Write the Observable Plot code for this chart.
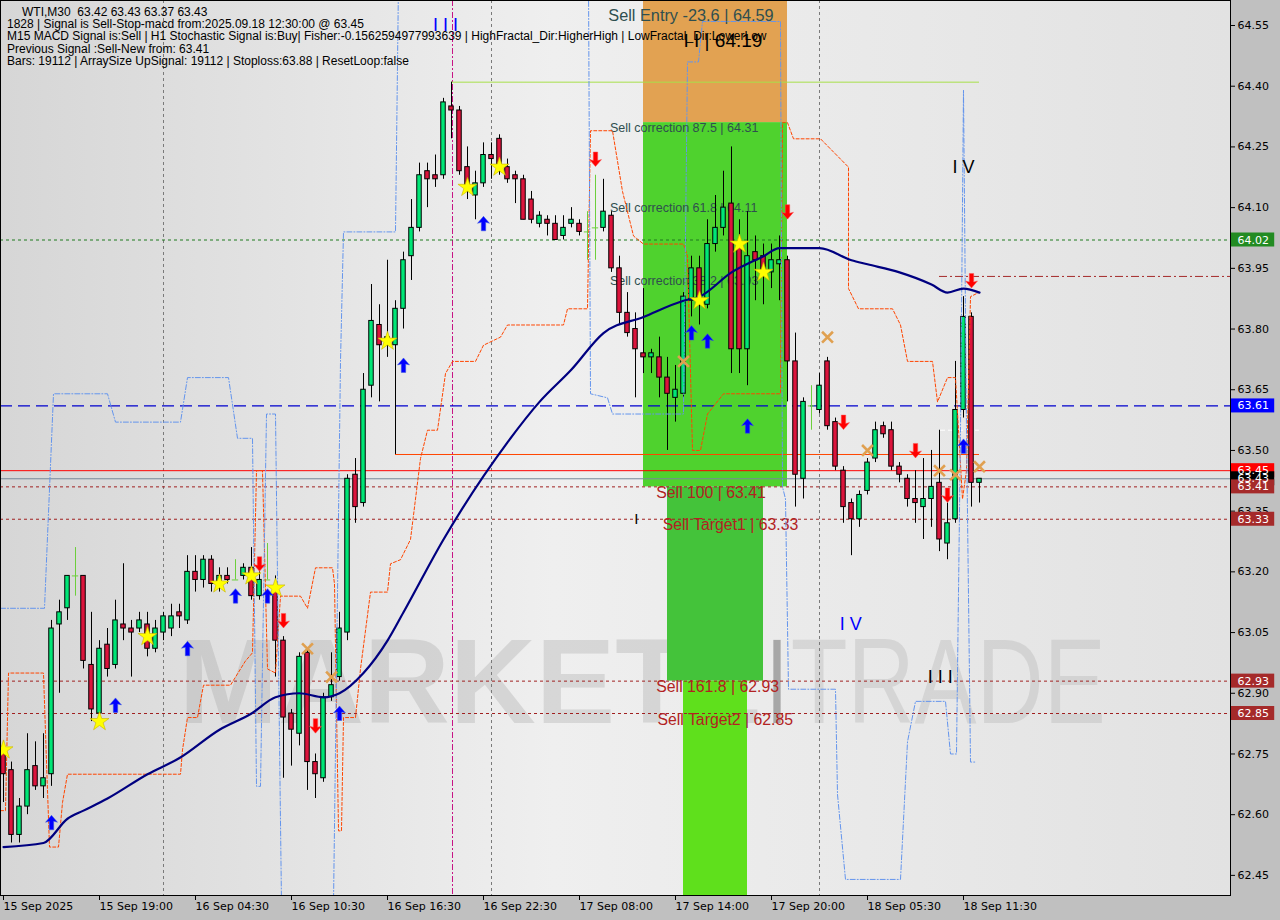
<!DOCTYPE html>
<html><head><meta charset="utf-8">
<script src="https://cdn.jsdelivr.net/npm/d3@7"></script>
<script src="https://cdn.jsdelivr.net/npm/@observablehq/plot@0.6"></script>
<style>
html,body{margin:0;padding:0;background:#c0c0c0;}
#wrap{position:relative;width:1280px;height:920px;overflow:hidden;}
#info{position:absolute;left:7px;top:6px;font:12px "Liberation Sans",Arial,sans-serif;line-height:12.2px;color:#000;white-space:pre;}
</style></head><body>
<div id="wrap"><div id="chart"></div>
<div id="info"><span style="padding-left:15px">WTI,M30  63.42 63.43 63.37 63.43</span>
1828 | Signal is Sell-Stop-macd from:2025.09.18 12:30:00 @ 63.45
M15 MACD Signal is:Sell | H1 Stochastic Signal is:Buy| Fisher:-0.1562594977993639 | HighFractal_Dir:HigherHigh | LowFractal_Dir:LowerLow
Previous Signal :Sell-New from: 63.41
Bars: 19112 | ArraySize UpSignal: 19112 | Stoploss:63.88 | ResetLoop:false</div>
</div>
<script>
// ---------- DATA ----------
const openP = [62.75,62.71,62.55,62.62,62.72,62.67,62.70,63.07,63.11,63.19,
63.19,62.97,62.85,63.02,62.97,63.07,63.06,63.06,63.07,63.01,
63.05,63.06,63.10,63.08,63.20,63.18,63.23,63.17,63.19,63.18,
63.19,63.21,63.14,63.18,63.16,63.03,62.85,62.80,63.00,62.73,
62.69,62.89,62.94,63.05,63.44,63.37,63.66,63.81,63.76,63.76,
63.85,63.98,64.05,64.19,64.18,64.18,64.35,64.34,64.20,64.13,
64.16,64.23,64.27,64.20,64.18,64.17,64.12,64.06,64.07,64.06,
64.03,64.06,64.06,64.04,64.05,64.05,64.08,63.95,63.84,63.80,
63.74,63.73,63.73,63.68,63.63,63.64,63.87,63.95,63.86,64.01,
64.05,64.11,64.00,63.75,63.99,63.98,63.94,63.96,63.97,63.72,
63.43,63.61,63.60,63.72,63.57,63.45,63.37,63.33,63.40,63.48,
63.56,63.55,63.46,63.43,63.38,63.36,63.38,63.42,63.27,63.33,
63.60,63.83,63.42];
const highP = [62.78,62.73,62.64,62.80,62.78,62.80,63.08,63.13,63.19,63.26,
63.19,63.10,63.03,63.06,63.13,63.22,63.08,63.10,63.10,63.08,
63.10,63.12,63.12,63.24,63.24,63.24,63.24,63.21,63.21,63.23,
63.22,63.26,63.20,63.27,63.19,63.04,62.86,63.00,63.01,62.75,
62.90,63.00,63.10,63.44,63.48,63.69,63.91,63.86,63.97,63.87,
63.99,64.12,64.21,64.21,64.23,64.37,64.41,64.35,64.25,64.19,
64.26,64.26,64.28,64.22,64.19,64.18,64.14,64.09,64.08,64.08,
64.08,64.10,64.07,64.09,64.18,64.17,64.09,63.98,63.89,63.84,
63.90,63.75,63.78,63.73,63.71,63.89,63.98,63.98,64.07,64.13,
64.19,64.25,64.07,64.09,64.03,64.01,64.01,64.03,63.98,63.79,
63.63,63.66,63.69,63.73,63.58,63.46,63.38,63.40,63.48,63.57,
63.57,63.57,63.47,63.44,63.45,63.48,63.50,63.55,63.37,63.72,
63.88,63.84,63.43];
const lowP = [62.63,62.53,62.53,62.60,62.66,62.64,62.67,62.90,63.08,63.14,
62.96,62.83,62.83,62.94,62.96,63.03,62.94,63.05,62.99,63.00,
63.03,63.04,63.06,63.07,63.15,63.16,63.15,63.15,63.17,63.18,
63.18,63.13,63.13,63.18,62.94,62.69,62.72,62.77,62.66,62.64,
62.68,62.88,62.93,63.03,63.32,63.36,63.63,63.62,63.73,63.49,
63.80,63.92,64.04,64.10,64.15,64.17,64.27,64.18,64.12,64.07,
64.15,64.17,64.18,64.16,64.11,64.07,64.06,64.05,64.03,64.02,
64.02,64.05,64.03,63.97,63.97,64.04,63.94,63.81,63.78,63.63,
63.69,63.69,63.63,63.50,63.57,63.63,63.83,63.81,63.85,63.99,
64.03,63.69,63.69,63.66,63.87,63.86,63.90,63.87,63.62,63.36,
63.38,63.55,63.59,63.55,63.45,63.32,63.24,63.31,63.39,63.47,
63.53,63.45,63.42,63.36,63.32,63.28,63.31,63.25,63.23,63.32,
63.58,63.36,63.37];
const closeP = [62.70,62.55,62.62,62.71,62.67,62.69,63.06,63.10,63.19,63.19,
62.98,62.86,63.01,62.96,63.08,63.06,63.05,63.08,63.01,63.06,
63.09,63.09,63.09,63.20,63.18,63.23,63.17,63.19,63.18,63.18,
63.21,63.14,63.18,63.18,63.03,62.84,62.81,62.99,62.73,62.70,
62.89,62.92,63.06,63.43,63.36,63.65,63.82,63.76,63.78,63.85,
63.97,64.05,64.18,64.17,64.17,64.36,64.34,64.19,64.15,64.16,
64.23,64.22,64.19,64.17,64.17,64.07,64.07,64.08,64.06,64.02,
64.05,64.07,64.04,64.04,64.05,64.09,63.95,63.84,63.79,63.75,
63.73,63.74,63.68,63.64,63.65,63.88,63.95,63.86,64.01,64.05,
64.10,63.75,63.75,63.98,63.97,63.93,63.97,63.97,63.72,63.44,
63.62,63.61,63.66,63.56,63.46,63.36,63.33,63.39,63.47,63.55,
63.54,63.46,63.44,63.38,63.37,63.38,63.41,63.28,63.32,63.60,
63.83,63.42,63.43];

// moving average (bar index, price)
const maLine = [[0,62.52],[5,62.53],[8,62.59],[10,62.61],[13,62.64],[18,62.70],[22,62.74],[27,62.81],[31,62.85],[34,62.89],[37,62.90],[40,62.89],[42,62.90],[45,62.95],[48,63.03],[50,63.10],[55,63.28],[63,63.52],[67,63.62],[71,63.70],[75,63.79],[80,63.83],[85,63.87],[87,63.88],[91,63.94],[95,63.98],[97,64.00],[99,64.00],[102,64.00],[106,63.97],[108,63.96],[112,63.94],[116,63.91],[118,63.89],[120,63.90],[122,63.89]];
// orange dashed channel (bar index, price)
const orangeBand = [[-0.375,62.61],[0.25,62.61],[0.625,62.95],[5,62.95],[5.375,62.73],[5.75,62.52],[6.875,62.52],[7.375,62.63],[8,62.70],[22.125,62.70],[22.375,62.76],[23,62.84],[24.25,62.84],[25,62.92],[28.375,62.92],[30.25,62.98],[31.125,63.00],[31.625,63.45],[32.375,63.45],[33,62.96],[34,62.95],[34.625,63.14],[37.125,63.14],[38,63.11],[39,63.21],[41.125,63.21],[41.375,63.17],[41.875,62.56],[42.25,62.56],[42.5,62.84],[44,62.84],[44.625,62.96],[45.875,63.15],[48,63.15],[48.375,63.22],[49.625,63.23],[50.875,63.28],[52.125,63.48],[53,63.55],[54.25,63.55],[55.25,63.69],[56.125,63.72],[59,63.72],[60,63.76],[62.125,63.78],[63,63.81],[70,63.81],[70.5,63.85],[73,63.85],[73.375,64.29],[76.125,64.29],[77.375,64.14],[78.75,64.03],[80,64.01],[85,64.01],[85.5,63.98],[86.125,63.50],[87.125,63.50],[88,63.59],[90,63.64],[97.125,63.64],[97.375,64.31],[98,64.31],[98.75,64.27],[102.125,64.27],[105.625,64.20],[105.625,63.90],[106.875,63.85],[111.125,63.85],[112.125,63.81],[113,63.72],[116.125,63.72],[116.75,63.62],[118,63.68],[119,63.68],[119.875,63.38],[120.375,63.45],[120.875,63.88],[121.875,63.89]];
// blue dash-dot channel (bar index, price)
const blueBand = [[-0.375,63.11],[5.125,63.11],[6.25,63.64],[13,63.64],[14,63.57],[22.125,63.57],[23,63.68],[28.125,63.68],[29.25,63.53],[31.125,63.53],[31.625,62.67],[32.125,62.67],[32.875,63.59],[34,63.59],[34.75,62.38],[41.25,62.38],[42.125,63.72],[42.5,64.04],[49,64.04],[49.375,64.66],[73.125,64.66],[73.375,63.64],[75.5,63.63],[76.125,63.59],[85,63.59],[85.5,64.46],[86.875,64.46],[87.375,64.56],[97.125,64.56],[97.375,63.41],[97.75,63.38],[98.125,62.91],[104,62.91],[104.25,62.65],[105.25,62.44],[112.125,62.44],[113,62.78],[114,62.88],[117.75,62.88],[118.375,62.75],[119.125,62.75],[119.625,63.55],[120,64.39],[120.375,63.55],[120.875,62.73],[121.5,62.73]];

// signal markers (bar index, price)
const stars = [[0,62.76],[12,62.83],[18,63.04],[27,63.17],[31,63.19],[34,63.16],[48,63.77],[58,64.15],[62,64.20],[87,63.87],[92,64.01],[95,63.94]];
const upArrows = [[6,62.58],[14,62.87],[23,63.01],[29,63.14],[33,63.14],[42,62.85],[50,63.71],[60,64.06],[86,63.79],[88,63.77],[93,63.56],[120,63.51]];
const downArrows = [[32,63.22],[35,63.08],[39,62.82],[74,64.22],[98,64.09],[105,63.57],[114,63.50],[118,63.39],[121,63.92]];
const crosses = [[38,63.01],[41,62.94],[85,63.72],[103,63.78],[108,63.50],[117,63.45],[119,63.44],[122,63.46]];

// horizontal levels
const levelDotted = [63.41, 63.33, 62.93, 62.85];
const levelGreen = 64.02, levelBlue = 63.61, levelRed = 63.45, levelBid = 63.43;
const levelOrange = 63.49, levelHigh = 64.41, levelStop = 63.93, levelWhite = 63.55;
const separators = [20, 61, 102];
const markerBar = 56;

// zones
const zoneFrom = [80, 80, 83, 85];
const zoneTo   = [98, 98, 95, 93];
const zoneLo   = [64.31, 63.41, 62.93, 62.30];
const zoneHi   = [64.70, 64.31, 63.41, 62.93];

// annotation texts
const fibText  = ["Sell Entry -23.6 | 64.59", "Sell correction 87.5 | 64.31", "Sell correction 61.8 | 64.11", "Sell correction 38.2 | 63.93"];
const fibPrice = [64.59, 64.31, 64.11, 63.93];
const fibBar   = [75.6, 75.8, 75.8, 75.8];
const tgtText  = ["Sell 100 | 63.41", "Sell Target1 | 63.33", "Sell 161.8 | 62.93", "Sell Target2 | 62.85"];
const tgtPrice = [63.41, 63.33, 62.93, 62.85];
const tgtBar   = [81.6, 82.4, 81.6, 81.75];
const waveText  = ["I I I", "I V", "I V", "I I I", "I"];
const waveBar   = [55.25, 120, 105.9, 117.1, 79.1];
const wavePrice = [64.55, 64.20, 63.07, 62.94, 63.33];
const wave2Text = "I I | 64.19", wave2Bar = 85, wave2Price = 64.53;
const watermark = ["MARKETZ", "I", "TRADE"];
const watermarkBar = [21.9, 95.8, 98.4];
const watermarkTop = 63.04;

// axes
const yTicks = [62.45,62.60,62.75,62.90,63.05,63.20,63.35,63.50,63.65,63.80,63.95,64.10,64.25,64.40,64.55];
const xTickBars = [0,12,24,36,48,60,72,84,96,108,120];
const xLabels = ["15 Sep 2025","15 Sep 19:00","16 Sep 04:30","16 Sep 10:30","16 Sep 16:30","16 Sep 22:30","17 Sep 08:00","17 Sep 14:00","17 Sep 20:00","18 Sep 05:30","18 Sep 11:30"];
const priceTags = [64.02, 63.61, 63.45, 63.43, 63.41, 63.33, 62.93, 62.85];

// ---------- STYLES ----------
const upC = "#00e676", dnC = "#dc143c", dojiC = "#6ccf3c";
const zoneFill = ["#e2a252", "#4fd22e", "#44c33a", "#5fe01c"];
const waveColor = ["#0000ff", "#000000", "#0000ff", "#000000", "#000000"];
const waveSize = [18, 18, 18, 18, 15];
const tagColor = ["#228b22", "#0000ff", "#ff0000", "#000000", "#a52a2a", "#a52a2a", "#a52a2a", "#a52a2a"];
const wmFill = ["#a0a0a0", "#707070", "#a8a8a8"];
const wmOpacity = [0.3, 0.55, 0.3];
const wmWidth = [582, 14, 315];
const FONT = "Liberation Sans, Arial, sans-serif";

// ---------- BUILD ----------
const candles = openP.map((o, i) => ({i, o, h: highP[i], l: lowP[i], c: closeP[i]}));
const bodies = candles.filter(d => d.o !== d.c);
const dojis = candles.filter(d => d.o === d.c);
const pts = a => a.map(([i, p]) => ({i, p}));
const zones = zoneFrom.map((f, k) => ({x1: f, x2: zoneTo[k], y1: zoneLo[k], y2: zoneHi[k], fill: zoneFill[k]}));
const fibs = fibText.map((t, k) => ({t, i: fibBar[k], p: fibPrice[k]}));
const tgts = tgtText.map((t, k) => ({t, i: tgtBar[k], p: tgtPrice[k]}));
const waves = waveText.map((t, k) => ({t, i: waveBar[k], p: wavePrice[k], c: waveColor[k], s: waveSize[k]}));
const tags = priceTags.map((p, k) => ({p, c: tagColor[k]}));
const wms = watermark.map((t, k) => ({t, i: watermarkBar[k], p: watermarkTop, f: wmFill[k], o: wmOpacity[k]}));
const tagHalf = 7 / 404.7;

const arrowUp = {draw(ctx){ctx.moveTo(0,-7.5);ctx.lineTo(6,-0.5);ctx.lineTo(2.2,-1.5);ctx.lineTo(2.2,7);ctx.lineTo(-2.2,7);ctx.lineTo(-2.2,-1.5);ctx.lineTo(-6,-0.5);ctx.closePath();}};
const arrowDown = {draw(ctx){ctx.moveTo(0,7.5);ctx.lineTo(6,0.5);ctx.lineTo(2.2,1.5);ctx.lineTo(2.2,-7);ctx.lineTo(-2.2,-7);ctx.lineTo(-2.2,1.5);ctx.lineTo(-6,0.5);ctx.closePath();}};

function background(index, scales, values, dims) {
  const ns = "http://www.w3.org/2000/svg";
  const g = document.createElementNS(ns, "g");
  const w = dims.width - dims.marginLeft - dims.marginRight;
  const h = dims.height - dims.marginTop - dims.marginBottom;
  g.innerHTML = `<defs><linearGradient id="bgGrad" x1="0" x2="1" y1="0" y2="0">
    <stop offset="0" stop-color="#d6d6d6"/><stop offset="0.45" stop-color="#efefef"/><stop offset="1" stop-color="#e2e2e2"/></linearGradient></defs>
    <rect x="${dims.marginLeft}" y="${dims.marginTop}" width="${w}" height="${h}" fill="url(#bgGrad)"/>`;
  return g;
}

const chart = Plot.plot({
  width: 1280, height: 920,
  marginLeft: 0, marginRight: 50, marginTop: 0, marginBottom: 25,
  x: {type: "linear", domain: [-0.375, 153.375], axis: null},
  y: {type: "linear", domain: [62.4003, 64.6118], axis: null},
  color: {type: "identity"},
  style: {background: "#c0c0c0", fontFamily: "DejaVu Sans, sans-serif", fontSize: "11px", color: "#000", overflow: "visible"},
  marks: [
    background,
    // watermark
    Plot.text(wms.slice(0, 2), {x: "i", y: "p", text: "t", textAnchor: "start", lineAnchor: "top", fontSize: 121, fontWeight: "bold", fontFamily: FONT, fill: "f", fillOpacity: "o"}),
    Plot.text(wms.slice(2), {x: "i", y: "p", text: "t", textAnchor: "start", lineAnchor: "top", fontSize: 121, fontFamily: FONT, fill: "f", fillOpacity: "o"}),
    // zones
    Plot.rect(zones, {x1: "x1", x2: "x2", y1: "y1", y2: "y2", fill: "fill", clip: true}),
    // separators
    Plot.ruleX(separators, {x: d => d, stroke: "#7a7a7a", strokeDasharray: "3,3", strokeWidth: 1}),
    Plot.ruleX([markerBar], {x: d => d + 0.125, stroke: "#c71585", strokeDasharray: "6,2,2,2", strokeWidth: 1}),
    // level lines
    Plot.ruleY([levelGreen], {y: d => d, stroke: "#1f7a1f", strokeDasharray: "3,3"}),
    Plot.ruleY([levelBlue], {y: d => d, stroke: "#0000cd", strokeDasharray: "12,6", strokeWidth: 1.2}),
    Plot.ruleY(levelDotted, {y: d => d, stroke: "#a02020", strokeDasharray: "3,3"}),
    Plot.ruleY([levelRed], {y: d => d, stroke: "#ff0000"}),
    Plot.ruleY([levelBid], {y: d => d, stroke: "#778899"}),
    Plot.ruleY([levelOrange], {y: d => d, x1: 49, x2: 122, stroke: "#ff4500"}),
    Plot.ruleY([levelHigh], {y: d => d, x1: 56, x2: 122, stroke: "#a8e04a"}),
    Plot.ruleY([levelStop], {y: d => d, x1: 117, x2: 153.375, stroke: "#a52a2a", strokeDasharray: "8,3,2,3"}),
    Plot.ruleY([levelWhite], {y: d => d, x1: 117, x2: 122, stroke: "#ffffff", strokeDasharray: "6,3"}),
    // annotation texts
    Plot.text(fibs.slice(0, 1), {x: "i", y: "p", text: "t", textAnchor: "start", lineAnchor: "top", fontSize: 16.3, fontFamily: FONT, fill: "#2f4f4f"}),
    Plot.text(fibs.slice(1), {x: "i", y: "p", text: "t", textAnchor: "start", lineAnchor: "top", fontSize: 12.5, fontFamily: FONT, fill: "#2f4f4f"}),
    Plot.text(tgts, {x: "i", y: "p", text: "t", textAnchor: "start", lineAnchor: "top", fontSize: 15.8, fontFamily: FONT, fill: "#b22222"}),
    Plot.text([{i: wave2Bar, p: wave2Price, t: wave2Text}], {x: "i", y: "p", text: "t", textAnchor: "start", lineAnchor: "top", fontSize: 19, fontFamily: FONT, fill: "#000"}),
    // candles
    Plot.ruleX(bodies, {x: "i", y1: "l", y2: "h", stroke: "#000", strokeWidth: 1}),
    Plot.rect(bodies, {x1: d => d.i - 0.28, x2: d => d.i + 0.28, y1: "o", y2: "c", fill: d => d.c > d.o ? upC : dnC, stroke: "#000", strokeWidth: 1}),
    Plot.ruleX(dojis, {x: "i", y1: "l", y2: "h", stroke: dojiC, strokeWidth: 1}),
    Plot.ruleY(dojis, {y: "o", x1: d => d.i - 0.4, x2: d => d.i + 0.4, stroke: dojiC, strokeWidth: 1}),
    // indicator lines
    Plot.line(pts(orangeBand), {x: "i", y: "p", stroke: "#ff4500", strokeWidth: 1, strokeDasharray: "3,2", clip: true}),
    Plot.line(pts(blueBand), {x: "i", y: "p", stroke: "#6495ed", strokeWidth: 1, strokeDasharray: "5,2,1,2", clip: true}),
    Plot.line(pts(maLine), {x: "i", y: "p", stroke: "#000080", strokeWidth: 2.2, curve: "monotone-x"}),
    // markers
    Plot.dot(pts(stars), {x: "i", y: "p", symbol: "star", r: 6, fill: "#ffff00", stroke: "#c8b400", strokeWidth: 0.6}),
    Plot.dot(pts(upArrows), {x: "i", y: "p", symbol: arrowUp, r: 4, fill: "#0000ff", stroke: "#3a5adf", strokeWidth: 0.5}),
    Plot.dot(pts(downArrows), {x: "i", y: "p", symbol: arrowDown, r: 4, fill: "#ff0000", stroke: "#ff5050", strokeWidth: 0.5}),
    Plot.dot(pts(crosses), {x: "i", y: "p", symbol: "times", r: 5, stroke: "#e0a050", strokeWidth: 2.6}),
    // wave labels
    Plot.text(waves, {x: "i", y: "p", text: "t", fill: "c", fontSize: "s", fontFamily: FONT}),
    // frame + axes
    Plot.frame({stroke: "#000"}),
    Plot.axisY({anchor: "right", ticks: yTicks, tickFormat: d => d.toFixed(2), tickSize: 4, tickPadding: 3, label: null, fontSize: 11}),
    Plot.axisX({anchor: "bottom", ticks: xTickBars, tickFormat: d => xLabels[xTickBars.indexOf(d)], tickSize: 5, tickPadding: 2, textAnchor: "start", label: null, fontSize: 11}),
    // price tags on the right axis
    Plot.rect(tags, {x1: 153.5, x2: 158.9, y1: d => d.p - tagHalf, y2: d => d.p + tagHalf, fill: "c"}),
    Plot.text(tags, {x: 154.25, y: "p", text: d => d.p.toFixed(2), fill: "#ffffff", textAnchor: "start", fontSize: 11})
  ]
});
// fit the watermark words to their widths
d3.select(chart).selectAll("g[font-size='121'] text").each(function() {
  const k = watermark.indexOf(this.textContent);
  if (k >= 0) {
    this.setAttribute("textLength", wmWidth[k]);
    this.setAttribute("lengthAdjust", "spacingAndGlyphs");
  }
});
document.getElementById("chart").appendChild(chart);
</script>
</body></html>
